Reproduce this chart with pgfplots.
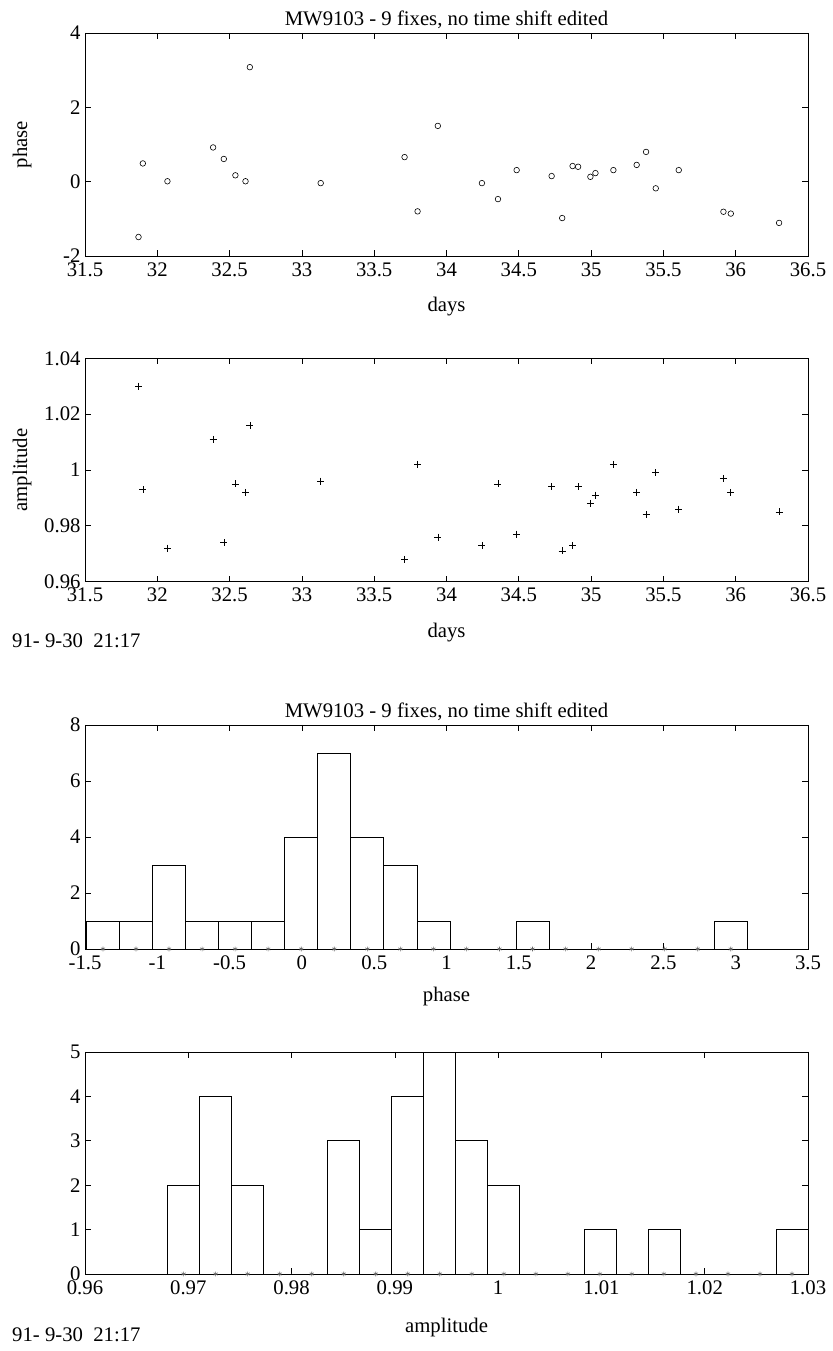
\documentclass[border=0pt]{standalone}
\usepackage{fontspec}
\setmainfont{Liberation Serif}
\usepackage{pgfplots}
\usepackage{pgfplotstable}
\pgfplotsset{compat=1.18}

\pgfplotstableread{
day phase amp
31.87 -1.49 1.030
31.90 0.49 0.993
32.07 0.01 0.972
32.386 0.92 1.011
32.46 0.61 0.974
32.54 0.17 0.995
32.61 0.01 0.992
32.64 3.08 1.016
33.13 -0.04 0.996
33.71 0.66 0.968
33.80 -0.80 1.002
33.94 1.50 0.976
34.245 -0.04 0.973
34.356 -0.47 0.995
34.485 0.31 0.977
34.727 0.15 0.994
34.80 -0.98 0.971
34.872 0.42 0.973
34.91 0.40 0.994
34.995 0.13 0.988
35.03 0.23 0.991
35.154 0.31 1.002
35.315 0.45 0.992
35.38 0.80 0.984
35.447 -0.18 0.999
35.606 0.31 0.986
35.915 -0.81 0.997
35.966 -0.86 0.992
36.30 -1.11 0.985
}\fixes

\pgfplotstableread{
edge count center
-1.49 1 -1.3758
-1.2615 1 -1.1473
-1.033 3 -0.9188
-0.8045 1 -0.6903
-0.576 1 -0.4618
-0.3475 1 -0.2333
-0.119 4 -0.0048
0.1095 7 0.2238
0.338 4 0.4523
0.5665 3 0.6808
0.795 1 0.9093
1.0235 0 1.1378
1.252 0 1.3663
1.4805 1 1.5948
1.709 0 1.8233
1.9375 0 2.0518
2.166 0 2.2803
2.3945 0 2.5088
2.623 0 2.7373
2.8515 1 2.9658
3.08 0 nan
}\phasehist

\pgfplotstableread{
edge count center
0.968 2 0.96955
0.9711 4 0.97265
0.9742 2 0.97575
0.9773 0 0.97885
0.9804 0 0.98195
0.9835 3 0.98505
0.9866 1 0.98815
0.9897 4 0.99125
0.9928 5 0.99435
0.9959 3 0.99745
0.9990 2 1.00055
1.0021 0 1.00365
1.0052 0 1.00675
1.0083 1 1.00985
1.0114 0 1.01295
1.0145 1 1.01605
1.0176 0 1.01915
1.0207 0 1.02225
1.0238 0 1.02535
1.0269 1 1.02845
1.0300 0 nan
}\amphist

\newcommand{\bigf}{\fontsize{20.8}{23}\selectfont}

\pgfplotsset{
  mystyle/.style={
    scale only axis, width=723bp, anchor=south west,
    axis line style={black, line width=0.7bp},
    every tick/.style={black, line width=0.7bp},
    tick align=inside, major tick length=6bp,
    /pgf/number format/assume math mode=true,
    tick label style={font=\bigf},
    label style={font=\bigf},
    title style={font=\bigf, at={(axis description cs:0.5,1)}, anchor=base, yshift=1.5bp},
    xticklabel style={yshift=-3bp},
    yticklabel style={xshift=-1bp},
    clip=false,
  }
}

\begin{document}
\begin{tikzpicture}[x=1bp,y=1bp]
\useasboundingbox (0,0) rectangle (832,1351);

% Plot 1: phase vs days
\begin{axis}[mystyle, at={(85bp,1095bp)}, height=223bp,
  xmin=31.5, xmax=36.5, ymin=-2, ymax=4,
  xtick={31.5,32,...,36.5}, ytick={-2,0,2,4},
  xticklabel style={/pgf/number format/precision=1},
  title={MW9103 - 9 fixes, no time shift edited},
  xlabel={days}, ylabel={phase},
  xlabel style={at={(axis description cs:0.5,-0.229)}, anchor=center},
  ylabel style={at={(axis description cs:-0.087,0.5)}, anchor=center, rotate=0},
]
\addplot[only marks, mark=o, mark size=2.8bp, mark options={line width=0.6bp, black}] table[x=day,y=phase] {\fixes};
\end{axis}

% Plot 2: amplitude vs days
\begin{axis}[mystyle, at={(85bp,769.3bp)}, height=223.4bp,
  xmin=31.5, xmax=36.5, ymin=0.96, ymax=1.04,
  xtick={31.5,32,...,36.5}, ytick={0.96,0.98,1,1.02,1.04},
  yticklabel style={/pgf/number format/fixed, /pgf/number format/precision=2},
  xlabel={days}, ylabel={amplitude},
  xlabel style={at={(axis description cs:0.5,-0.229)}, anchor=center},
  ylabel style={at={(axis description cs:-0.087,0.5)}, anchor=center, rotate=0},
]
\addplot[only marks, mark=+, mark size=3.5bp, mark options={line width=0.6bp, black}] table[x=day,y=amp] {\fixes};
\end{axis}

\node[anchor=base west, font=\bigf, inner sep=0pt] at (12,703) {91-\ 9-30\ \ 21:17};

% Plot 3: phase histogram
\begin{axis}[mystyle, at={(85bp,402bp)}, height=224bp,
  xmin=-1.5, xmax=3.5, ymin=0, ymax=8,
  xtick={-1.5,-1,...,3.5}, ytick={0,2,4,6,8},
  title={MW9103 - 9 fixes, no time shift edited},
  xlabel={phase},
  xlabel style={at={(axis description cs:0.5,-0.21)}, anchor=center},
]
\addplot[ybar interval, draw=black, fill=white, line width=0.7bp] table[x=edge,y=count] {\phasehist};
\addplot[only marks, mark=asterisk, mark size=2.4bp, mark options={black!60, line width=0.6bp}] table[x=center,y expr=0] {\phasehist};
\end{axis}

% Plot 4: amplitude histogram
\begin{axis}[mystyle, at={(85bp,77bp)}, height=222bp,
  xmin=0.96, xmax=1.03, ymin=0, ymax=5,
  xtick={0.96,0.97,0.98,0.99,1,1.01,1.02,1.03}, ytick={0,1,2,3,4,5},
  xticklabel style={/pgf/number format/fixed, /pgf/number format/precision=2},
  xlabel={amplitude},
  xlabel style={at={(axis description cs:0.5,-0.24)}, anchor=center},
]
\addplot[ybar interval, draw=black, fill=white, line width=0.7bp] table[x=edge,y=count] {\amphist};
\addplot[only marks, mark=asterisk, mark size=2.4bp, mark options={black!60, line width=0.6bp}] table[x=center,y expr=0] {\amphist};
\end{axis}

\node[anchor=base west, font=\bigf, inner sep=0pt] at (12,9) {91-\ 9-30\ \ 21:17};
\end{tikzpicture}
\end{document}
